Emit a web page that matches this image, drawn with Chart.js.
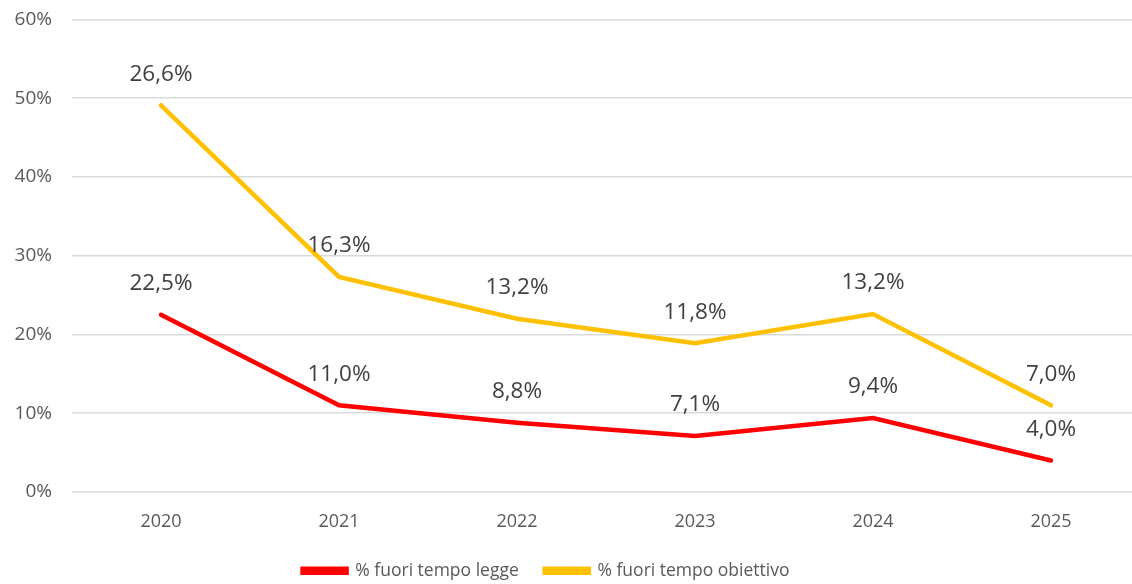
<!DOCTYPE html>
<html>
<head>
<meta charset="utf-8">
<script src="https://cdn.jsdelivr.net/npm/chart.js@4"></script>
<style>
  html, body { margin:0; padding:0; background:#fff; overflow:hidden; }
  #wrap { position:absolute; left:0; top:-12px; width:1140px; height:596px; }
</style>
</head>
<body>
<div id="wrap"><canvas id="c"></canvas></div>
<script>
const categories = ['2020', '2021', '2022', '2023', '2024', '2025'];
const seriesLegge = [22.5, 11.0, 8.8, 7.1, 9.4, 4.0];
const seriesObiettivo = [26.6, 16.3, 13.2, 11.8, 13.2, 7.0];
const seriesNames = ['% fuori tempo legge', '% fuori tempo obiettivo'];
const yTicks = [0, 10, 20, 30, 40, 50, 60];

const FONT = '"Open Sans", sans-serif';

const labelPlugin = {
  id: 'valueLabels',
  afterLayout(chart) {
    if (chart.legend) { chart.legend.left -= 24; chart.legend.right -= 24; }
  },
  afterDatasetsDraw(chart) {
    const ctx = chart.ctx;
    ctx.save();
    ctx.font = '22.5px ' + FONT;
    ctx.fillStyle = '#404040';
    ctx.textAlign = 'center';
    ctx.textBaseline = 'middle';
    chart.data.datasets.forEach((ds, i) => {
      const meta = chart.getDatasetMeta(i);
      meta.data.forEach((pt, j) => {
        const txt = ds.data[j].toFixed(1).replace('.', ',') + '%';
        ctx.fillText(txt, pt.x, pt.y - 31);
      });
    });
    ctx.restore();
  }
};

new Chart(document.getElementById('c'), {
  type: 'line',
  data: {
    labels: categories,
    datasets: [
      { label: seriesNames[0], data: seriesLegge, borderColor: '#FF0000', backgroundColor: '#FF0000',
        borderWidth: 4.5, pointRadius: 0, tension: 0, fill: false, borderCapStyle: 'round' },
      { label: seriesNames[1], data: seriesObiettivo, borderColor: '#FFC000', backgroundColor: '#FFC000',
        borderWidth: 4.5, pointRadius: 0, tension: 0, fill: false, borderCapStyle: 'round' }
    ]
  },
  options: {
    responsive: true,
    maintainAspectRatio: false,
    animation: false,
    layout: { padding: { top: 9, left: 0, right: 0, bottom: 0 } },
    plugins: {
      legend: {
        position: 'bottom',
        maxHeight: 48,
        labels: {
          font: { family: FONT, size: 17.5 },
          color: '#595959',
          boxWidth: 44,
          boxHeight: 4,
          padding: 26
        }
      },
      tooltip: { enabled: false }
    },
    scales: {
      x: {
        offset: true,
        grid: { display: false },
        border: { display: false },
        afterFit(scale) { scale.height = 44; },
        ticks: { font: { family: FONT, size: 18 }, color: '#595959', padding: 11 }
      },
      y: {
        stacked: true,
        min: 0, max: 60,
        afterBuildTicks(scale) { scale.ticks = yTicks.map(v => ({ value: v })); },
        afterFit(scale) { scale.width = 72; },
        grid: { color: '#D9D9D9', lineWidth: 1.5, drawTicks: false },
        border: { display: false },
        ticks: { font: { family: FONT, size: 19 }, color: '#595959', padding: 20,
          callback: v => v + '%' }
      }
    }
  },
  plugins: [labelPlugin]
});
</script>
</body>
</html>
